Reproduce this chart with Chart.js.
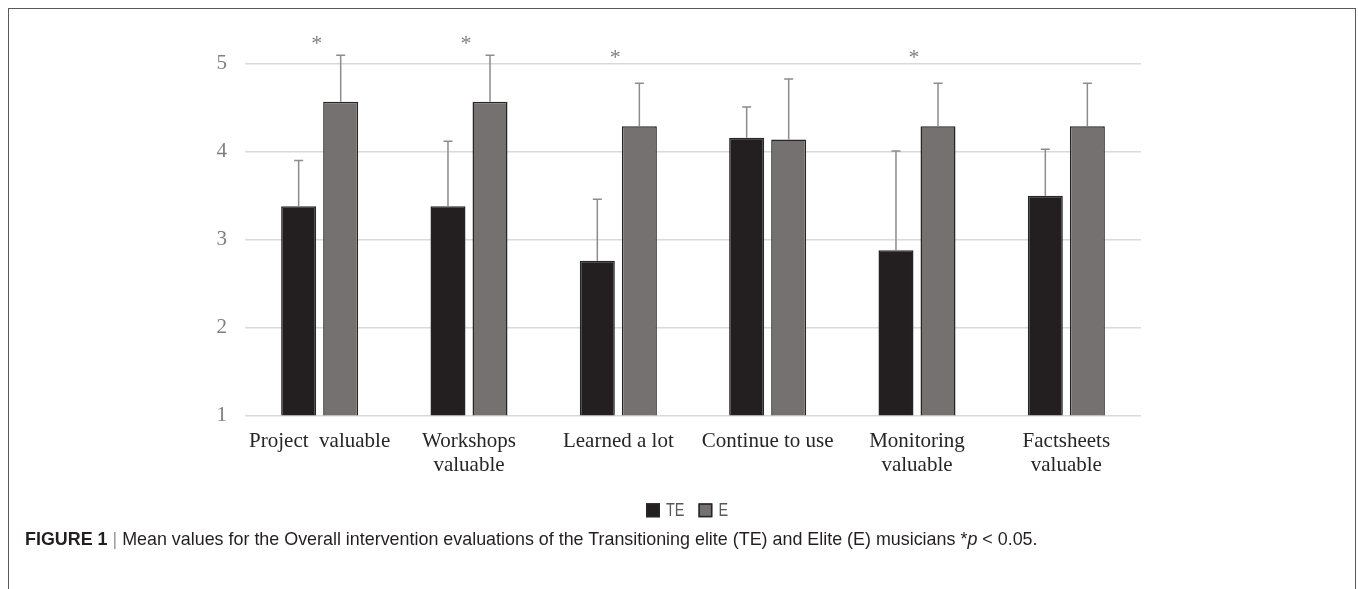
<!DOCTYPE html>
<html><head><meta charset="utf-8">
<script src="https://cdn.jsdelivr.net/npm/chart.js@4/dist/chart.umd.min.js"></script>
<style>
html,body{margin:0;padding:0;background:#fff;width:1358px;height:589px;overflow:hidden;}
#frame{position:absolute;left:8px;top:8px;width:1348px;height:620px;border:1.5px solid #5a5a5a;box-sizing:border-box;}
#wrap{position:absolute;left:0;top:0;width:1358px;height:589px;}
#cap{position:absolute;left:25px;top:529px;font-family:"Liberation Sans",Arial,sans-serif;font-size:17.9px;color:#231f20;white-space:nowrap;}
#cap .bar{color:#999;}
</style></head><body>
<div id="frame"></div>
<div id="wrap"><canvas id="c" width="1358" height="589"></canvas></div>
<div id="cap"><b>FIGURE 1</b> <span class="bar">|</span> Mean values for the Overall intervention evaluations of the Transitioning elite (TE) and Elite (E) musicians *<i>p</i> &lt; 0.05.</div>
<script>
const categories = [["Project  valuable"], ["Workshops", "valuable"], ["Learned a lot"], ["Continue to use"], ["Monitoring", "valuable"], ["Factsheets", "valuable"]];
const seriesNames = ["TE", "E"];
const teMeans = [3.38, 3.38, 2.76, 4.16, 2.88, 3.50];
const eMeans  = [4.57, 4.57, 4.29, 4.14, 4.29, 4.29];
const teSD    = [0.52, 0.74, 0.70, 0.35, 1.13, 0.53];
const eSD     = [0.53, 0.53, 0.49, 0.69, 0.49, 0.49];
const sigMarks  = ["*", "*", "*", "", "*", ""];
const sigLevels = [5.25, 5.25, 5.09, null, 5.09, null];
const yTicks = [1, 2, 3, 4, 5];

const errPlugin = {
  id: 'errbars',
  afterDatasetsDraw(chart) {
    const ctx = chart.ctx, ys = chart.scales.y, xs = chart.scales.x;
    const sds = [teSD, eSD];
    chart.data.datasets.forEach((ds, di) => {
      const meta = chart.getDatasetMeta(di);
      if (meta.hidden) return;
      meta.data.forEach((bar, i) => {
        const top = ys.getPixelForValue(ds.data[i] + sds[di][i]);
        ctx.save();
        ctx.strokeStyle = '#8c8c8c';
        ctx.lineWidth = 1.5;
        ctx.beginPath();
        ctx.moveTo(bar.x, bar.y);
        ctx.lineTo(bar.x, top);
        ctx.moveTo(bar.x - 4.5, top);
        ctx.lineTo(bar.x + 4.5, top);
        ctx.stroke();
        ctx.restore();
      });
    });
    ctx.save();
    ctx.fillStyle = '#7f7f7f';
    ctx.font = '22px "Liberation Serif", "Times New Roman", serif';
    ctx.textAlign = 'center';
    ctx.textBaseline = 'alphabetic';
    sigMarks.forEach((m, i) => {
      if (!m) return;
      ctx.fillText(m, xs.getPixelForValue(i) - 3, ys.getPixelForValue(sigLevels[i]) + 8);
    });
    ctx.restore();
  }
};

const legendPlugin = {
  id: 'customLegend',
  afterDraw(chart) {
    const ctx = chart.ctx, ca = chart.chartArea;
    const items = chart.data.datasets.map(ds => ({ label: ds.label, fill: ds.backgroundColor, stroke: ds.borderColor }));
    ctx.save();
    ctx.font = '18px "Liberation Sans", Arial, sans-serif';
    const sx = 0.8, box = 14, gap = 6, itemGap = 14;
    const widths = items.map(it => ctx.measureText(it.label).width * sx);
    const total = widths.reduce((a, w) => a + box + gap + w, 0) + itemGap * (items.length - 1);
    let x = (ca.left + ca.right) / 2 - 6 - total / 2;
    const cy = ca.bottom + 95;
    items.forEach((it, i) => {
      ctx.fillStyle = it.fill;
      ctx.fillRect(x, cy - box / 2, box, box);
      ctx.strokeStyle = it.stroke;
      ctx.lineWidth = 1.5;
      ctx.strokeRect(x + 0.75, cy - box / 2 + 0.75, box - 1.5, box - 1.5);
      ctx.save();
      ctx.translate(x + box + gap, cy);
      ctx.scale(sx, 1);
      ctx.fillStyle = '#595959';
      ctx.textAlign = 'left';
      ctx.textBaseline = 'middle';
      ctx.fillText(it.label, 0, 1);
      ctx.restore();
      x += box + gap + widths[i] + itemGap;
    });
    ctx.restore();
  }
};

new Chart(document.getElementById('c'), {
  type: 'bar',
  data: {
    labels: categories,
    datasets: [
      { label: seriesNames[0], data: teMeans, backgroundColor: '#231f20', borderColor: '#262626', borderWidth: 1.5,
        categoryPercentage: 0.563, barPercentage: 0.833 },
      { label: seriesNames[1], data: eMeans, backgroundColor: '#767171', borderColor: '#262626', borderWidth: 1.5,
        categoryPercentage: 0.563, barPercentage: 0.833 }
    ]
  },
  options: {
    responsive: false,
    animation: false,
    layout: { padding: { left: 0, right: 217, top: 10, bottom: 97.4 } },
    plugins: {
      tooltip: { enabled: false },
      legend: { display: false }
    },
    scales: {
      x: {
        grid: { display: false, drawTicks: false },
        border: { display: false },
        ticks: {
          color: '#262626', padding: 14, maxRotation: 0, autoSkip: false,
          font: { family: '"Liberation Serif", "Times New Roman", serif', size: 21, lineHeight: 1.15 }
        }
      },
      y: {
        min: 1, max: 5.38,
        afterBuildTicks: s => { s.ticks = yTicks.map(v => ({ value: v })); },
        afterFit: s => { s.width = 245; },
        grid: { color: '#d9d9d9', lineWidth: 1.5, drawTicks: false },
        border: { display: false },
        ticks: {
          color: '#7f7f7f', padding: 18,
          font: { family: '"Liberation Serif", "Times New Roman", serif', size: 21 }
        }
      }
    }
  },
  plugins: [errPlugin, legendPlugin]
});
</script>
</body></html>
